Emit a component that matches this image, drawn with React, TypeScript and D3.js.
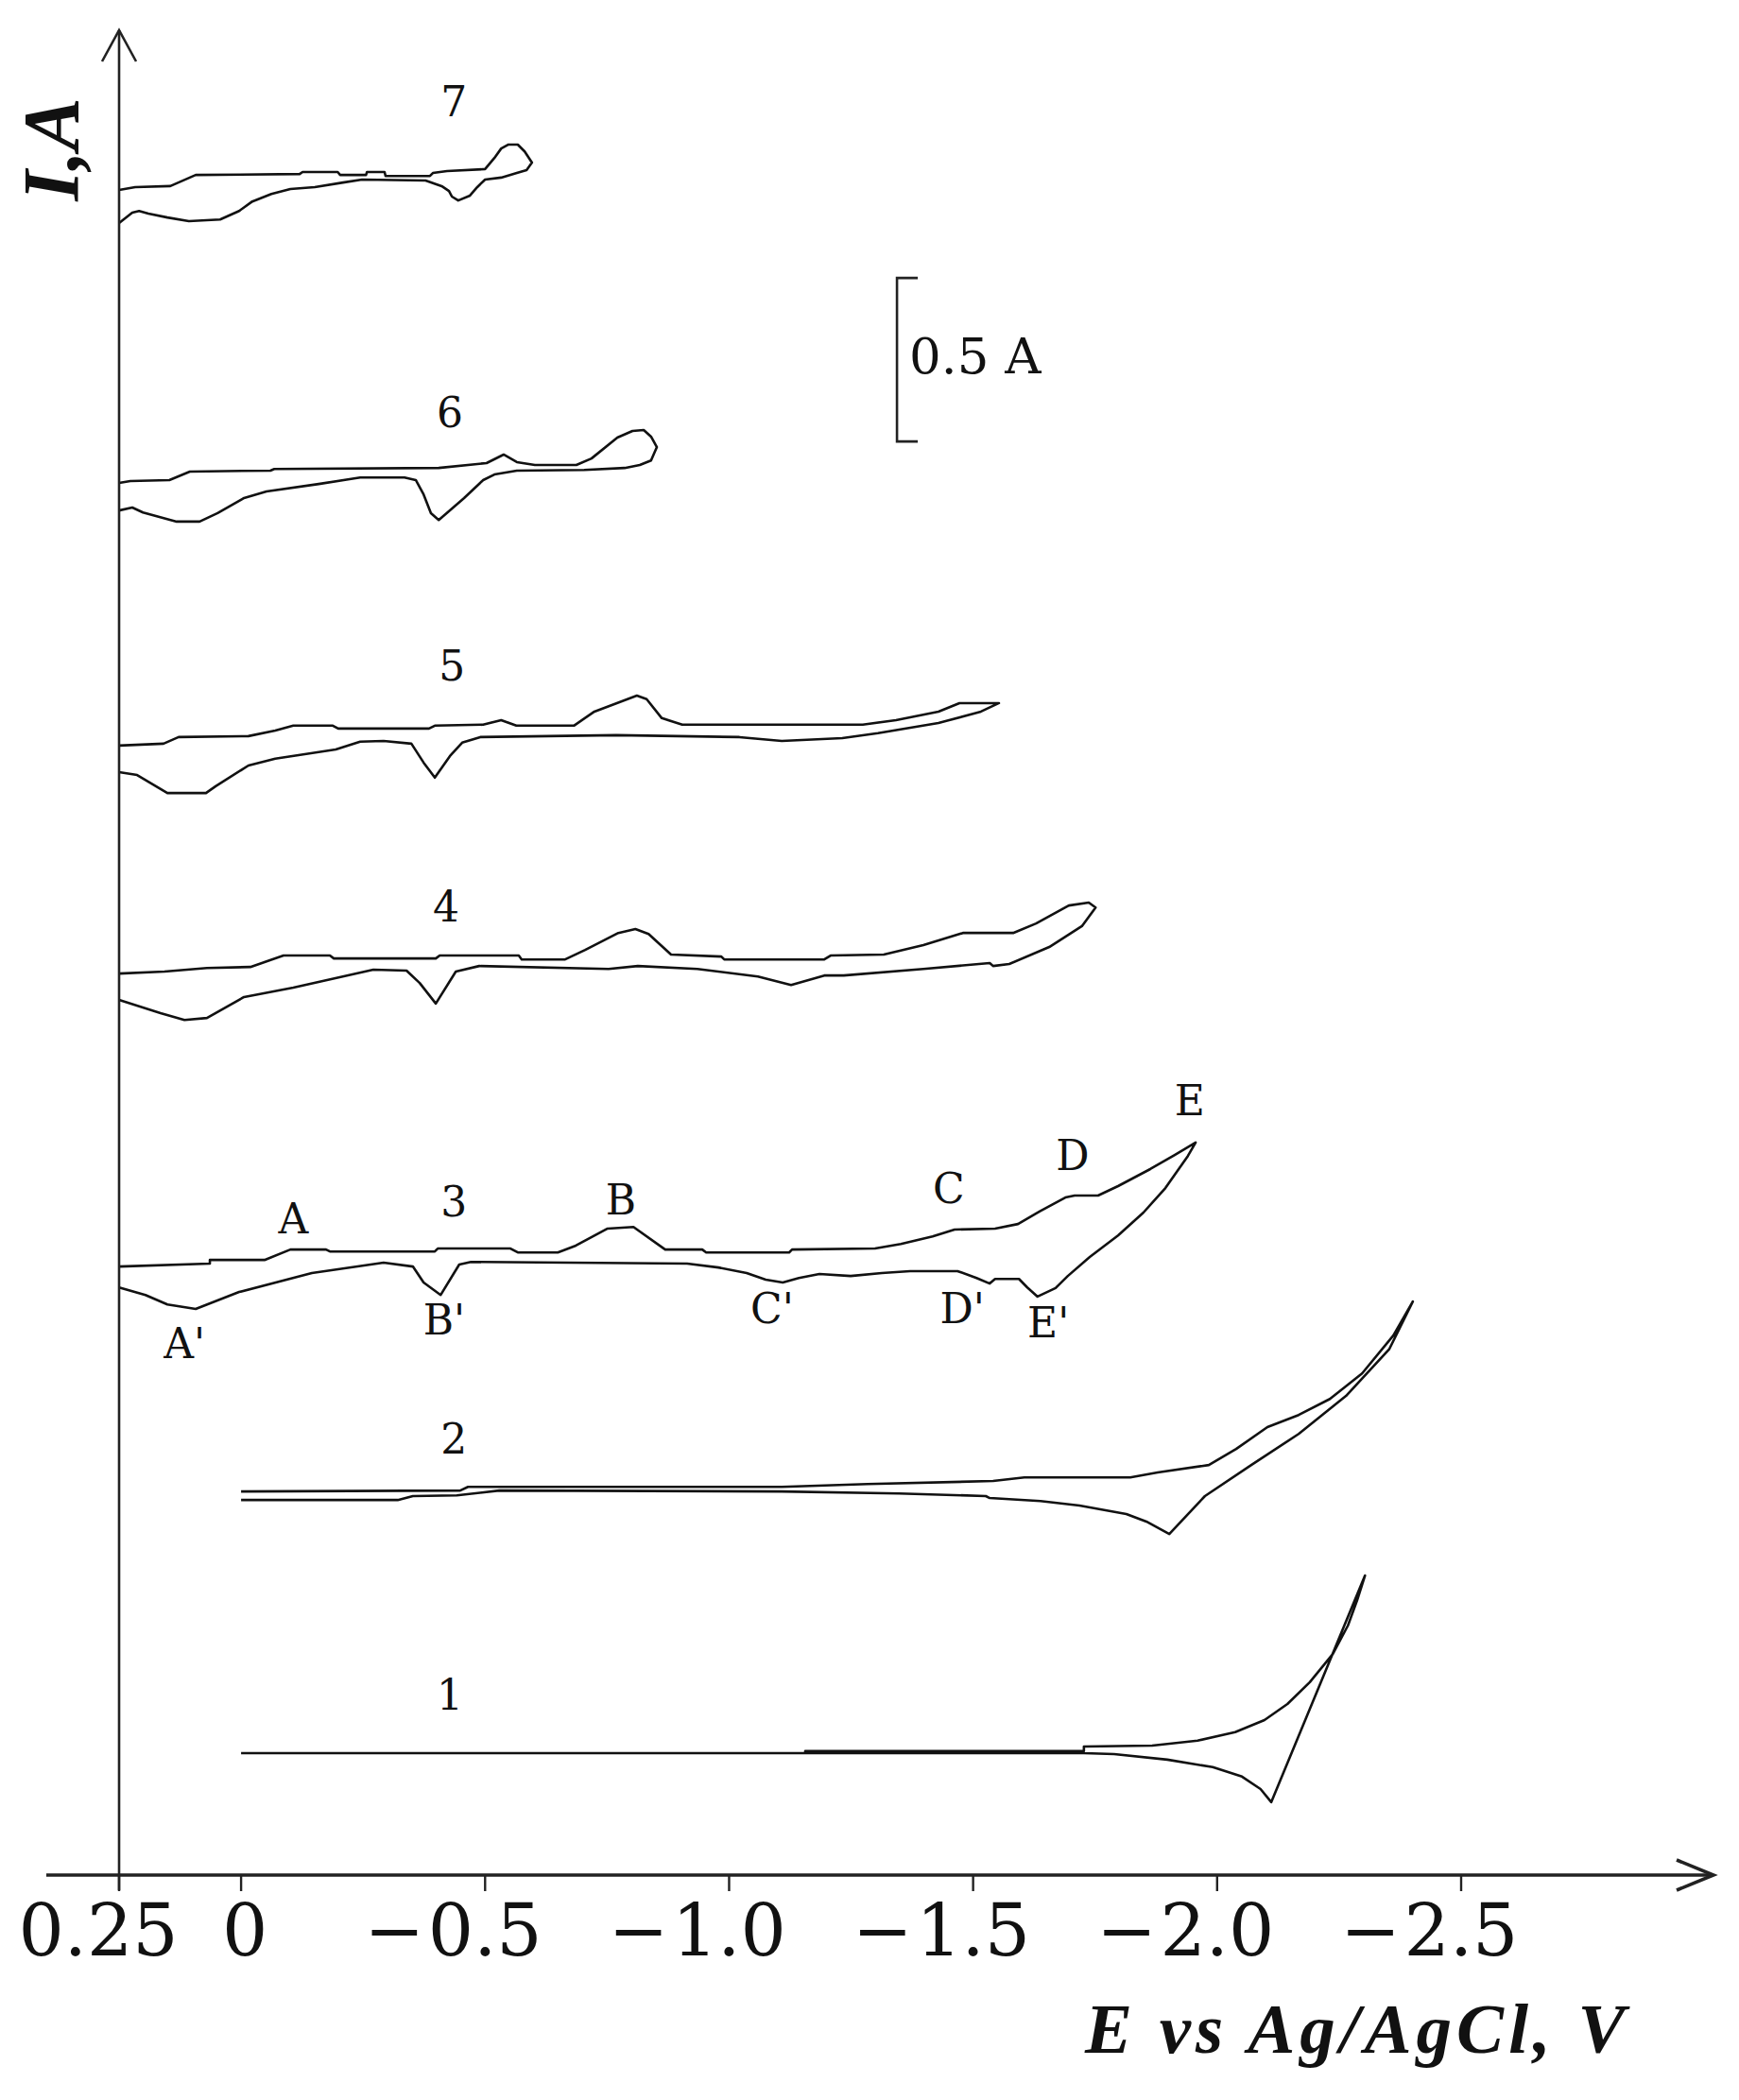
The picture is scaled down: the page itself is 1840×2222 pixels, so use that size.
import React from "react";
import * as d3 from "d3";

// ---------- axis ticks ----------
const E_TICKS = [0.25, 0, -0.5, -1.0, -1.5, -2.0, -2.5];
const E_TICK_LABELS = ["0.25", "0", "0.5", "1.0", "1.5", "2.0", "2.5"];
const E_TICK_NEG = [false, false, true, true, true, true, true];

// ---------- curves: [E (V), I relative to curve baseline (A)] ----------
const CURVE_NAMES = ["1", "2", "3", "4", "5", "6", "7"];
const CURVE_OFFSETS = [0.373, 1.173, 1.861, 2.757, 3.454, 4.257, 5.153];

const C1_FWD = [
  [0, 0], [-1.156, 0], [-1.156, 0.006], [-1.727, 0.006], [-1.727, 0.02], [-1.867, 0.023],
  [-1.96, 0.038], [-2.037, 0.064], [-2.097, 0.101], [-2.144, 0.15], [-2.19, 0.217],
  [-2.237, 0.303], [-2.268, 0.39], [-2.287, 0.468], [-2.303, 0.543],
];
const C1_REV = [
  [-2.111, -0.15], [-2.089, -0.11], [-2.051, -0.072], [-1.991, -0.043], [-1.898, -0.02],
  [-1.789, -0.003], [-1.727, 0], [0, 0],
];

const C2_FWD = [
  [0, 0], [-0.449, 0.003], [-0.465, 0.014], [-1.108, 0.014], [-1.284, 0.023], [-1.541, 0.032],
  [-1.605, 0.043], [-1.822, 0.043], [-1.878, 0.058], [-1.983, 0.081], [-2.039, 0.13],
  [-2.103, 0.197], [-2.167, 0.234], [-2.231, 0.283], [-2.297, 0.361], [-2.361, 0.477],
  [-2.401, 0.581],
];
const C2_REV = [
  [-2.353, 0.436], [-2.264, 0.292], [-2.167, 0.176], [-2.07, 0.081], [-1.975, -0.014],
  [-1.902, -0.13], [-1.855, -0.092], [-1.814, -0.069], [-1.718, -0.043], [-1.638, -0.029],
  [-1.534, -0.02], [-1.526, -0.014], [-1.348, -0.006], [-1.108, 0], [-0.529, 0.003],
  [-0.442, -0.012], [-0.352, -0.014], [-0.321, -0.026], [-0.161, -0.026], [0, -0.026],
];

const C3_FWD = [
  [0.25, 0], [0.064, 0.009], [0.064, 0.02], [-0.048, 0.02], [-0.101, 0.052], [-0.174, 0.052],
  [-0.182, 0.046], [-0.397, 0.046], [-0.403, 0.055], [-0.552, 0.055], [-0.567, 0.043],
  [-0.649, 0.043], [-0.686, 0.064], [-0.751, 0.116], [-0.804, 0.121], [-0.869, 0.052],
  [-0.945, 0.052], [-0.953, 0.043], [-1.123, 0.043], [-1.129, 0.052], [-1.299, 0.055],
  [-1.352, 0.069], [-1.417, 0.092], [-1.462, 0.113], [-1.545, 0.116], [-1.592, 0.13],
  [-1.636, 0.168], [-1.689, 0.211], [-1.708, 0.217], [-1.756, 0.217], [-1.797, 0.246],
  [-1.863, 0.298], [-1.913, 0.341], [-1.956, 0.379],
];
const C3_REV = [
  [-1.94, 0.338], [-1.894, 0.24], [-1.849, 0.165], [-1.797, 0.095], [-1.739, 0.029],
  [-1.694, -0.029], [-1.669, -0.066], [-1.632, -0.092], [-1.611, -0.064], [-1.594, -0.038],
  [-1.545, -0.038], [-1.534, -0.052], [-1.507, -0.035], [-1.468, -0.014], [-1.371, -0.014],
  [-1.313, -0.02], [-1.249, -0.029], [-1.185, -0.023], [-1.143, -0.035], [-1.11, -0.049],
  [-1.075, -0.04], [-1.036, -0.02], [-0.978, -0.003], [-0.914, 0.009], [-0.471, 0.014],
  [-0.447, 0.006], [-0.409, -0.087], [-0.374, -0.049], [-0.352, 0], [-0.292, 0.012],
  [-0.145, -0.02], [0.004, -0.078], [0.093, -0.13], [0.151, -0.116], [0.196, -0.087],
  [0.25, -0.064],
];

const C4_FWD = [
  [0.25, 0], [0.157, 0.006], [0.07, 0.017], [-0.019, 0.02], [-0.087, 0.055], [-0.182, 0.055],
  [-0.19, 0.046], [-0.399, 0.046], [-0.407, 0.055], [-0.569, 0.055], [-0.575, 0.043],
  [-0.664, 0.043], [-0.705, 0.072], [-0.773, 0.124], [-0.808, 0.136], [-0.835, 0.121],
  [-0.881, 0.058], [-0.984, 0.052], [-0.99, 0.043], [-1.195, 0.043], [-1.208, 0.055],
  [-1.317, 0.058], [-1.398, 0.087], [-1.479, 0.124], [-1.582, 0.124], [-1.629, 0.153],
  [-1.696, 0.208], [-1.737, 0.217], [-1.751, 0.202],
];
const C4_REV = [
  [-1.723, 0.145], [-1.656, 0.081], [-1.574, 0.029], [-1.541, 0.023], [-1.534, 0.032],
  [-1.398, 0.014], [-1.235, -0.006], [-1.195, -0.006], [-1.127, -0.035], [-1.059, -0.009],
  [-0.935, 0.014], [-0.813, 0.023], [-0.753, 0.014], [-0.488, 0.023], [-0.44, 0.006],
  [-0.399, -0.092], [-0.366, -0.029], [-0.339, 0.009], [-0.271, 0.012], [-0.107, -0.043],
  [-0.006, -0.072], [0.07, -0.136], [0.116, -0.142], [0.165, -0.121], [0.25, -0.081],
];

const C5_FWD = [
  [0.25, 0], [0.159, 0.006], [0.128, 0.026], [-0.015, 0.029], [-0.07, 0.046], [-0.107, 0.061],
  [-0.188, 0.061], [-0.199, 0.052], [-0.385, 0.052], [-0.397, 0.061], [-0.496, 0.064],
  [-0.533, 0.078], [-0.564, 0.061], [-0.682, 0.061], [-0.724, 0.104], [-0.811, 0.153],
  [-0.831, 0.142], [-0.862, 0.084], [-0.904, 0.064], [-1.274, 0.064], [-1.342, 0.078],
  [-1.429, 0.104], [-1.472, 0.13], [-1.553, 0.13],
];
const C5_REV = [
  [-1.516, 0.104], [-1.429, 0.069], [-1.305, 0.038], [-1.232, 0.023], [-1.108, 0.014],
  [-1.021, 0.026], [-0.769, 0.032], [-0.49, 0.026], [-0.453, 0.009], [-0.428, -0.032],
  [-0.397, -0.098], [-0.374, -0.052], [-0.349, 0.006], [-0.292, 0.014], [-0.244, 0.012],
  [-0.194, -0.012], [-0.07, -0.04], [-0.015, -0.061], [0.052, -0.124], [0.072, -0.145],
  [0.151, -0.145], [0.213, -0.09], [0.25, -0.081],
];

const C6_FWD = [
  [0.25, 0], [0.227, 0.006], [0.147, 0.009], [0.105, 0.035], [-0.06, 0.038], [-0.068, 0.043],
  [-0.405, 0.046], [-0.503, 0.061], [-0.538, 0.087], [-0.565, 0.064], [-0.602, 0.055],
  [-0.687, 0.055], [-0.718, 0.075], [-0.771, 0.139], [-0.802, 0.159], [-0.825, 0.162],
  [-0.84, 0.142], [-0.852, 0.11],
];
const C6_REV = [
  [-0.84, 0.069], [-0.817, 0.055], [-0.786, 0.046], [-0.703, 0.04], [-0.565, 0.038],
  [-0.519, 0.026], [-0.496, 0.009], [-0.457, -0.046], [-0.405, -0.113], [-0.389, -0.092],
  [-0.374, -0.035], [-0.358, 0.009], [-0.335, 0.017], [-0.244, 0.017], [-0.159, -0.003],
  [-0.052, -0.026], [-0.006, -0.046], [0.048, -0.092], [0.085, -0.118], [0.132, -0.118],
  [0.201, -0.09], [0.223, -0.075], [0.25, -0.084],
];

const C7_FWD = [
  [0.25, 0], [0.217, 0.009], [0.145, 0.012], [0.093, 0.046], [-0.12, 0.049], [-0.126, 0.055],
  [-0.198, 0.055], [-0.203, 0.046], [-0.256, 0.046], [-0.258, 0.055], [-0.294, 0.055],
  [-0.296, 0.043], [-0.387, 0.043], [-0.393, 0.052], [-0.422, 0.058], [-0.5, 0.064],
  [-0.519, 0.098], [-0.533, 0.127], [-0.548, 0.139], [-0.567, 0.139], [-0.581, 0.118],
  [-0.596, 0.084],
];
const C7_REV = [
  [-0.585, 0.061], [-0.565, 0.052], [-0.533, 0.038], [-0.5, 0.032], [-0.484, 0.009],
  [-0.469, -0.017], [-0.445, -0.032], [-0.432, -0.02], [-0.426, -0.003], [-0.411, 0.012],
  [-0.378, 0.029], [-0.248, 0.032], [-0.209, 0.023], [-0.151, 0.009], [-0.101, 0.003],
  [-0.062, -0.012], [-0.023, -0.035], [0.004, -0.064], [0.043, -0.09], [0.107, -0.095],
  [0.151, -0.084], [0.19, -0.072], [0.209, -0.064], [0.223, -0.069], [0.25, -0.101],
];

const CURVE_FWD = [C1_FWD, C2_FWD, C3_FWD, C4_FWD, C5_FWD, C6_FWD, C7_FWD];
const CURVE_REV = [C1_REV, C2_REV, C3_REV, C4_REV, C5_REV, C6_REV, C7_REV];

// curve number labels (E, I absolute in stacked frame)
const CURVE_LABEL_E = [-0.428, -0.436, -0.436, -0.42, -0.432, -0.428, -0.436];
const CURVE_LABEL_I = [0.506, 1.289, 2.014, 2.916, 3.653, 4.428, 5.379];

// peak labels on curve 3
const PEAK_LABELS = ["A", "B", "C", "D", "E", "A'", "B'", "C'", "D'", "E'"];
const PEAK_E = [-0.107, -0.778, -1.45, -1.704, -1.944, 0.116, -0.416, -1.088, -1.478, -1.654];
const PEAK_I = [1.962, 2.02, 2.055, 2.156, 2.324, 1.581, 1.653, 1.688, 1.688, 1.645];

// scale bar (0.5 A)
const SCALE_BAR_E = -1.344;
const SCALE_BAR_BOTTOM = 4.384;
const SCALE_BAR_LEN = 0.5;
const SCALE_BAR_LABEL = "0.5 A";

export default function App() {
  const W = 1840;
  const H = 2222;
  const x = d3.scaleLinear().domain([0.25, -2.5]).range([126, 1546]);
  const y = d3.scaleLinear().domain([0, 5.6]).range([1984, 1984 - 5.6 * 346]);
  const line = d3
    .line<number[]>()
    .x((d) => x(d[0]))
    .y((d) => y(d[1]))
    .curve(d3.curveLinear);

  const axisY = y(0);
  const axisX = x(0.25);
  const serif = "'DejaVu Serif', serif";
  const titleFont = "'Liberation Serif', 'DejaVu Serif', serif";

  const sbX = x(SCALE_BAR_E);
  const sbTop = y(SCALE_BAR_BOTTOM + SCALE_BAR_LEN);
  const sbBot = y(SCALE_BAR_BOTTOM);

  return (
    <svg
      width={W}
      height={H}
      viewBox={`0 0 ${W} ${H}`}
      style={{ position: "absolute", left: 0, top: 0, display: "block", background: "#fff" }}
    >
      <rect x={0} y={0} width={W} height={H} fill="#fff" />

      {/* curves */}
      <g fill="none" stroke="#111" strokeWidth={2.6} strokeLinejoin="round">
        {CURVE_FWD.map((fwd, i) => {
          const off = CURVE_OFFSETS[i];
          const pts = fwd.concat(CURVE_REV[i]).map((p) => [p[0], p[1] + off]);
          return <path key={CURVE_NAMES[i]} d={line(pts) || ""} />;
        })}
      </g>

      {/* x axis */}
      <line x1={49} x2={1813} y1={axisY} y2={axisY} stroke="#222" strokeWidth={3.6} />
      <polyline
        points={`1774,${axisY - 16} 1813,${axisY} 1774,${axisY + 16}`}
        fill="none"
        stroke="#222"
        strokeWidth={3.6}
      />
      {E_TICKS.map((t) => (
        <line key={"tk" + t} x1={x(t)} x2={x(t)} y1={axisY} y2={axisY + 17} stroke="#222" strokeWidth={2.4} />
      ))}
      {E_TICKS.map((t, i) => {
        const cx = i === 0 ? x(t) - 22 : i === 1 ? x(t) + 4 : x(t);
        return (
          <g key={"tl" + t} fontFamily={serif} fontSize={76} fill="#111">
            <text x={cx} y={2069} textAnchor="middle">
              {E_TICK_LABELS[i]}
            </text>
            {E_TICK_NEG[i] && (
              <text x={x(t) - 64} y={2069} textAnchor="end">
                {"\u2212"}
              </text>
            )}
          </g>
        );
      })}
      <text
        x={1148}
        y={2172}
        fontFamily={titleFont}
        fontSize={75}
        fontWeight="bold"
        fontStyle="italic"
        letterSpacing={5}
        fill="#111"
      >
        E vs Ag/AgCl, V
      </text>

      {/* y axis */}
      <line x1={axisX} x2={axisX} y1={axisY + 16} y2={32} stroke="#222" strokeWidth={2.6} />
      <polyline
        points={`${axisX - 18},65 ${axisX},32 ${axisX + 18},65`}
        fill="none"
        stroke="#222"
        strokeWidth={2.6}
      />
      <text
        transform="translate(83,158) rotate(-90)"
        textAnchor="middle"
        fontFamily={titleFont}
        fontSize={84}
        fontWeight="bold"
        fontStyle="italic"
        fill="#111"
      >
        I,A
      </text>

      {/* scale bar */}
      <g stroke="#222" strokeWidth={2.6} fill="none">
        <polyline points={`${sbX + 22},${sbTop} ${sbX},${sbTop} ${sbX},${sbBot} ${sbX + 22},${sbBot}`} />
      </g>
      <text x={sbX + 13} y={395} fontFamily={serif} fontSize={53} fill="#111">
        {SCALE_BAR_LABEL}
      </text>

      {/* curve numbers */}
      {CURVE_NAMES.map((n, i) => (
        <text
          key={"cn" + n}
          x={x(CURVE_LABEL_E[i])}
          y={y(CURVE_LABEL_I[i])}
          textAnchor="middle"
          fontFamily={serif}
          fontSize={44}
          fill="#111"
        >
          {n}
        </text>
      ))}

      {/* peak labels */}
      {PEAK_LABELS.map((p, i) => (
        <text
          key={"pk" + p}
          x={x(PEAK_E[i])}
          y={y(PEAK_I[i])}
          textAnchor="middle"
          fontFamily={serif}
          fontSize={44}
          fill="#111"
        >
          {p}
        </text>
      ))}
    </svg>
  );
}
